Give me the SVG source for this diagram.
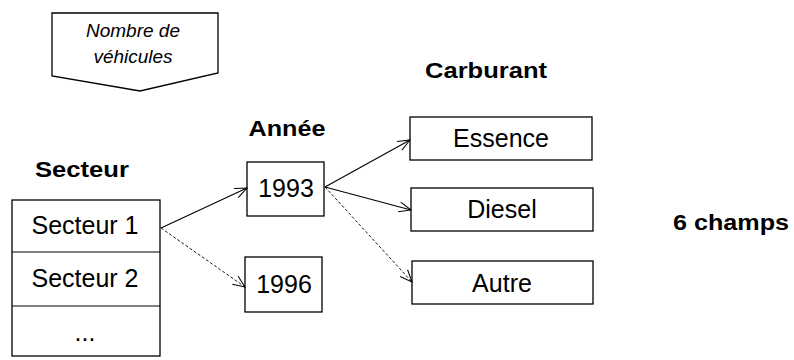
<svg xmlns="http://www.w3.org/2000/svg" width="794" height="360" viewBox="0 0 794 360">
<style>
.box{fill:#fff;stroke:#000;stroke-width:1.3}
.t{font-family:"Liberation Sans",Arial,sans-serif;font-size:25px;fill:#000;text-anchor:middle}
.h{font-family:"Liberation Sans",Arial,sans-serif;font-size:22px;font-weight:bold;fill:#000;text-anchor:middle}
.i{font-family:"Liberation Sans",Arial,sans-serif;font-size:19px;font-style:italic;fill:#000;text-anchor:middle}
.c{fill:none;stroke:#000;stroke-width:1.1}
.d{stroke-dasharray:3 2;stroke-width:0.9}
</style>
<defs>
<marker id="arr" markerWidth="14" markerHeight="12" refX="13" refY="6" orient="auto" markerUnits="userSpaceOnUse">
<path d="M1,1 L13,6 L1,11" fill="none" stroke="#000" stroke-width="1"/>
</marker>
</defs>
<g id="nombre">
<path class="box" d="M52,13 L218,13 L218,73 L140,91 L52,76 Z"/>
<text class="i" x="133" y="37">Nombre de</text>
<text class="i" x="133" y="63">véhicules</text>
</g>
<g id="labels">
<text class="h" x="82" y="177" textLength="94" lengthAdjust="spacingAndGlyphs">Secteur</text>
<text class="h" x="287" y="136" textLength="77" lengthAdjust="spacingAndGlyphs">Année</text>
<text class="h" x="486" y="78" textLength="122" lengthAdjust="spacingAndGlyphs">Carburant</text>
<text class="h" x="731" y="230" textLength="116" lengthAdjust="spacingAndGlyphs">6 champs</text>
</g>
<g id="secteur">
<rect class="box" x="12" y="200" width="148" height="156"/>
<line class="c" x1="12" y1="252" x2="160" y2="252"/>
<line class="c" x1="12" y1="306" x2="160" y2="306"/>
<text class="t" x="85" y="234">Secteur 1</text>
<text class="t" x="85" y="287">Secteur 2</text>
<text class="t" x="85" y="341">...</text>
</g>
<g id="y1993">
<rect class="box" x="247" y="162" width="77" height="54"/>
<text class="t" x="286" y="197">1993</text>
</g>
<g id="y1996">
<rect class="box" x="245" y="257" width="77" height="55"/>
<text class="t" x="284" y="293">1996</text>
</g>
<g id="essence">
<rect class="box" x="410" y="117" width="182" height="43"/>
<text class="t" x="501" y="147">Essence</text>
</g>
<g id="diesel">
<rect class="box" x="411" y="188" width="182" height="43"/>
<text class="t" x="502" y="218">Diesel</text>
</g>
<g id="autre">
<rect class="box" x="412" y="261" width="181" height="43"/>
<text class="t" x="502" y="292">Autre</text>
</g>
<g id="connectors">
<line class="c" x1="161" y1="228" x2="247" y2="188" marker-end="url(#arr)"/>
<line class="c d" x1="161" y1="228" x2="245" y2="287" marker-end="url(#arr)"/>
<line class="c" x1="325" y1="187" x2="410" y2="140" marker-end="url(#arr)"/>
<line class="c" x1="325" y1="187" x2="411" y2="210" marker-end="url(#arr)"/>
<line class="c d" x1="325" y1="187" x2="412" y2="282" marker-end="url(#arr)"/>
</g>
</svg>
